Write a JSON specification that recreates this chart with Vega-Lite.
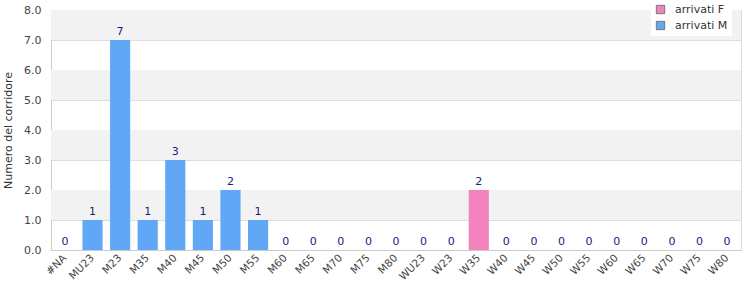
{
  "$schema": "https://vega.github.io/schema/vega-lite/v6.json",
  "width": 690,
  "height": 240,
  "autosize": "none",
  "padding": {"left": 51, "top": 10, "right": 9, "bottom": 50},
  "background": "white",
  "config": {
    "font": "DejaVu Sans",
    "view": {"stroke": "#dddddd", "strokeWidth": 1},
    "axisY": {
      "title": "Numero del corridore", "titleFontWeight": "normal", "titleFontSize": 11,
      "titleColor": "#333333", "format": ".1f", "values": [0,1,2,3,4,5,6,7,8],
      "labelOverlap": false, "labelFlush": false,
      "ticks": false, "labelPadding": 10, "labelColor": "#444444", "labelFontSize": 11,
      "domainColor": "#cccccc", "gridColor": "#dddddd", "titlePadding": 10
    }
  },
  "layer": [
    {
      "data": {"values": [{"lo": 1, "hi": 2}, {"lo": 3, "hi": 4}, {"lo": 5, "hi": 6}, {"lo": 7, "hi": 8}]},
      "mark": {"type": "rect", "color": "#f2f2f2"},
      "encoding": {
        "y": {"field": "lo", "type": "quantitative", "scale": {"domain": [0, 8], "nice": false},
          "axis": {"title": "Numero del corridore", "values": [0,1,2,3,4,5,6,7,8], "format": ".1f", "labelOverlap": false, "labelFlush": false}},
        "y2": {"field": "hi"}
      }
    },
    {
      "data": {"values": [
        {"cat": "#NA", "v": 0, "s": "arrivati M"},
        {"cat": "MU23", "v": 1, "s": "arrivati M"},
        {"cat": "M23", "v": 7, "s": "arrivati M"},
        {"cat": "M35", "v": 1, "s": "arrivati M"},
        {"cat": "M40", "v": 3, "s": "arrivati M"},
        {"cat": "M45", "v": 1, "s": "arrivati M"},
        {"cat": "M50", "v": 2, "s": "arrivati M"},
        {"cat": "M55", "v": 1, "s": "arrivati M"},
        {"cat": "M60", "v": 0, "s": "arrivati M"},
        {"cat": "M65", "v": 0, "s": "arrivati M"},
        {"cat": "M70", "v": 0, "s": "arrivati M"},
        {"cat": "M75", "v": 0, "s": "arrivati M"},
        {"cat": "M80", "v": 0, "s": "arrivati M"},
        {"cat": "WU23", "v": 0, "s": "arrivati F"},
        {"cat": "W23", "v": 0, "s": "arrivati F"},
        {"cat": "W35", "v": 2, "s": "arrivati F"},
        {"cat": "W40", "v": 0, "s": "arrivati F"},
        {"cat": "W45", "v": 0, "s": "arrivati F"},
        {"cat": "W50", "v": 0, "s": "arrivati F"},
        {"cat": "W55", "v": 0, "s": "arrivati F"},
        {"cat": "W60", "v": 0, "s": "arrivati F"},
        {"cat": "W65", "v": 0, "s": "arrivati F"},
        {"cat": "W70", "v": 0, "s": "arrivati F"},
        {"cat": "W75", "v": 0, "s": "arrivati F"},
        {"cat": "W80", "v": 0, "s": "arrivati F"}
      ]},
      "encoding": {
        "x": {
          "field": "cat", "type": "nominal", "sort": null,
          "scale": {"paddingInner": 0.27, "paddingOuter": 0.14},
          "axis": {
            "title": null, "labelAngle": -45, "labelAlign": "right", "labelBaseline": "middle",
            "ticks": false, "labelPadding": 6, "labelColor": "#444444", "labelFontSize": 10.5,
            "domainColor": "#cccccc", "grid": false
          }
        },
        "y": {
          "field": "v", "type": "quantitative",
          "scale": {"domain": [0, 8], "nice": false},
          "axis": {"title": "Numero del corridore", "values": [0,1,2,3,4,5,6,7,8], "format": ".1f", "labelOverlap": false, "labelFlush": false}
        }
      },
      "layer": [
        {
          "mark": {"type": "bar"},
          "encoding": {
            "color": {
              "field": "s", "type": "nominal",
              "scale": {"domain": ["arrivati F", "arrivati M"], "range": ["#f283bc", "#60a8f5"]},
              "legend": {
                "title": null, "orient": "none", "legendX": 600, "legendY": -10,
                "fillColor": "white", "padding": 4, "symbolType": "square", "symbolSize": 70,
                "symbolStrokeColor": "#777777", "symbolStrokeWidth": 1, "labelFontSize": 11,
                "labelColor": "#333333", "rowPadding": 3, "labelOffset": 9
              }
            }
          }
        },
        {
          "mark": {"type": "text", "baseline": "bottom", "dy": -3, "color": "#1a1a80", "fontSize": 11},
          "encoding": {"text": {"field": "v", "type": "quantitative"}}
        }
      ]
    }
  ]
}
